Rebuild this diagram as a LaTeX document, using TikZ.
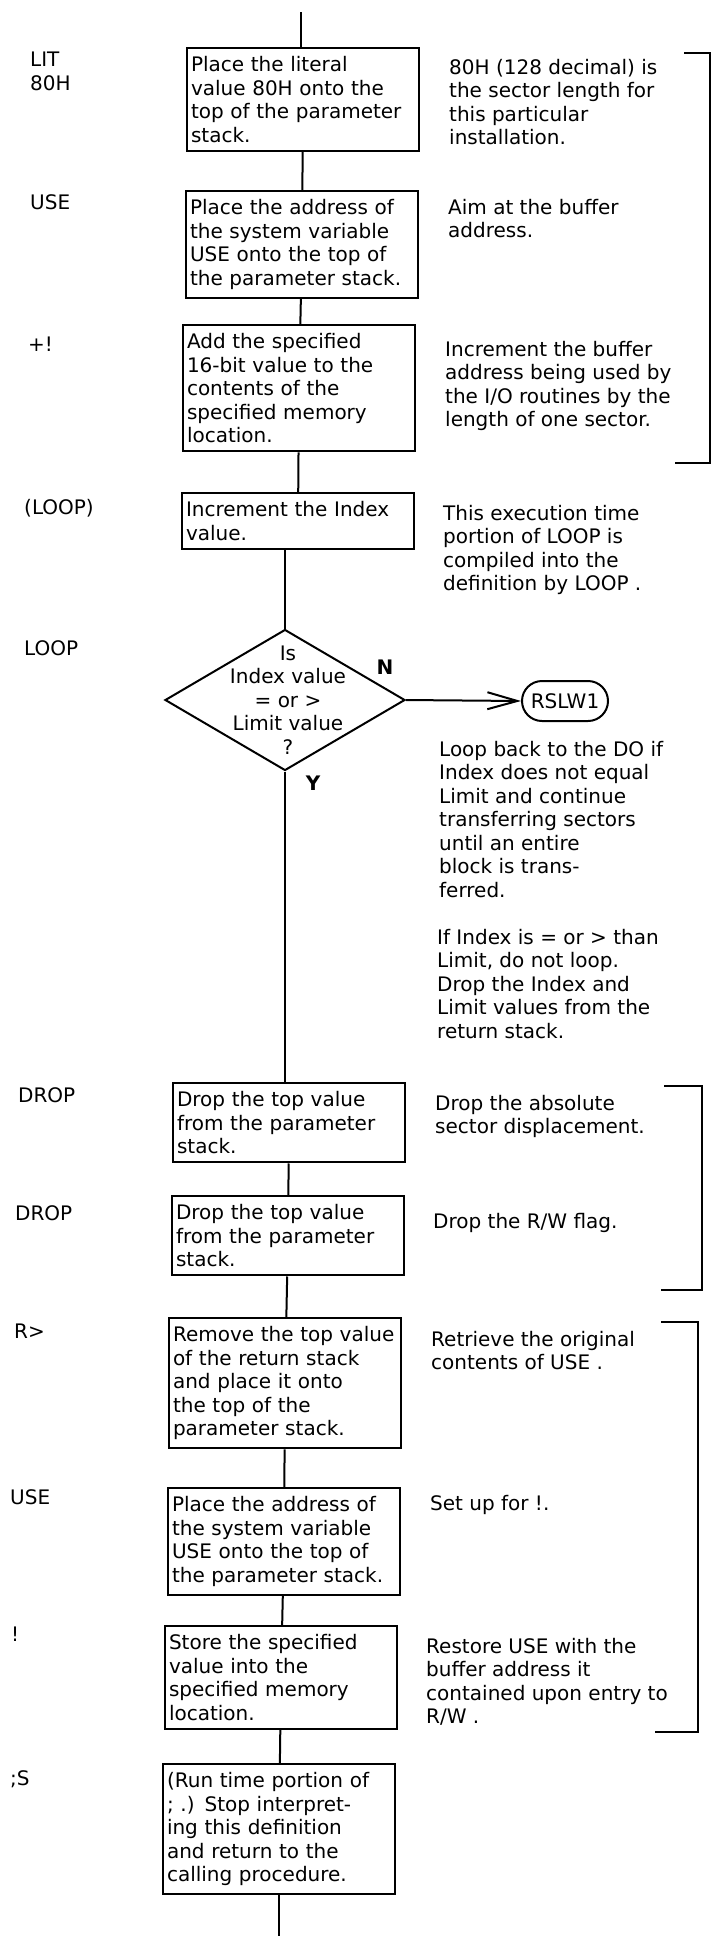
\documentclass[tikz,border=0pt]{standalone}
\usepackage{fontspec}
\setmainfont{DejaVu Sans}
\usepackage{tikz}
\usetikzlibrary{shapes,arrows.meta,positioning,calc}

\begin{document}
\begin{tikzpicture}[
  x=1pt, y=-1pt,
  every node/.style={font=\fontsize{20}{23.5}\selectfont},
  stepbox/.style={draw, line width=2pt, anchor=north west, text width=224pt, align=left, inner xsep=4pt, inner ysep=8.5pt},
  wordlabel/.style={anchor=north west, inner sep=0pt, align=left},
  notetext/.style={anchor=north west, inner sep=0pt, align=left},
  decision/.style={diamond, draw, line width=2pt, minimum width=240pt, minimum height=141pt, inner sep=0pt},
  terminal/.style={draw, line width=2pt, rounded corners=20pt, minimum width=86pt, minimum height=40pt, inner xsep=2pt},
  branch/.style={font=\fontsize{20}{24}\selectfont\bfseries, inner sep=0pt},
  flow/.style={line width=2pt},
  arrow/.style={-{Straight Barb[length=30pt, width=17pt]}, line width=2pt},
  bracket/.style={line width=2pt}
]
\useasboundingbox (0,0) rectangle (712,1936);
\fill[white] (0,0) rectangle (712,1936);

\coordinate (entry) at (301,12);
\coordinate (exit) at (274,1936);

\node[stepbox] (lit) at (186,47) {Place the literal\\value 80H onto the\\top of the parameter\\stack.};
\node[stepbox] (use) at (185,190) {Place the address of\\the system variable\\USE onto the top of\\the parameter stack.};
\node[stepbox] (plusstore) at (182,324) {Add the specified\\16-bit value to the\\contents of the\\specified memory\\location.};
\node[stepbox] (ploop) at (181,492) {Increment the Index\\value.};
\node[decision] (test) at (285,700) {};
\node[align=center, inner sep=0pt] (testtxt) at (288,700) {Is\\Index value\\= or >\\Limit value\\?};
\node[terminal] (rslw) at (565,701) {RSLW1};
\node[branch] (no) at (385,667) {N};
\node[branch] (yes) at (313,783) {Y};
\node[stepbox] (dropa) at (172,1082) {Drop the top value\\from the parameter\\stack.};
\node[stepbox] (dropb) at (171,1195) {Drop the top value\\from the parameter\\stack.};
\node[stepbox] (fromr) at (168,1317) {Remove the top value\\of the return stack\\and place it onto\\the top of the\\parameter stack.};
\node[stepbox] (useb) at (167,1487) {Place the address of\\the system variable\\USE onto the top of\\the parameter stack.};
\node[stepbox] (store) at (164,1625) {Store the specified\\value into the\\specified memory\\location.};
\node[stepbox] (semis) at (162,1763) {(Run time portion of\\; .) Stop interpret-\\ing this definition\\and return to the\\calling procedure.};

\node[wordlabel] (wlit) at (30,52) {LIT\\80H};
\node[wordlabel] (wuse) at (30,194) {USE};
\node[wordlabel] (wplus) at (28,337) {+!};
\node[wordlabel] (wploop) at (24,499) {(LOOP)};
\node[wordlabel] (wloop) at (24,640) {LOOP};
\node[wordlabel] (wdropa) at (18,1087) {DROP};
\node[wordlabel] (wdropb) at (15,1205) {DROP};
\node[wordlabel] (wfromr) at (14,1324) {R>};
\node[wordlabel] (wuseb) at (10,1489) {USE};
\node[wordlabel] (wstore) at (11,1627) {!};
\node[wordlabel] (wsemis) at (10,1770) {;S};

\node[notetext] (nlit) at (449,59) {80H (128 decimal) is\\the sector length for\\this particular\\installation.};
\node[notetext] (nuse) at (448,199) {Aim at the buffer\\address.};
\node[notetext] (nplus) at (445,341) {Increment the buffer\\address being used by\\the I/O routines by the\\length of one sector.};
\node[notetext] (nploop) at (443,505) {This execution time\\portion of LOOP is\\compiled into the\\definition by LOOP .};
\node[notetext] (nback) at (439,741) {Loop back to the DO if\\Index does not equal\\Limit and continue\\transferring sectors\\until an entire\\block is trans-\\ferred.};
\node[notetext] (ndone) at (437,929) {If Index is = or > than\\Limit, do not loop.\\Drop the Index and\\Limit values from the\\return stack.};
\node[notetext] (ndropa) at (435,1095) {Drop the absolute\\sector displacement.};
\node[notetext] (ndropb) at (433,1213) {Drop the R/W flag.};
\node[notetext] (nfromr) at (431,1331) {Retrieve the original\\contents of USE .};
\node[notetext] (nuseb) at (430,1495) {Set up for !.};
\node[notetext] (nstore) at (426,1638) {Restore USE with the\\buffer address it\\contained upon entry to\\R/W .};

\draw[flow] (entry) -- (entry |- lit.north);
\draw[flow] (lit) -- (use);
\draw[flow] (use) -- (plusstore);
\draw[flow] (plusstore) -- (ploop);
\draw[flow] (ploop.south -| test.north) -- (test.north);
\draw[arrow] (test.east) -- (rslw.west);
\draw[flow] (test.south) -- (test.south |- dropa.north);
\draw[flow] (dropa) -- (dropb);
\draw[flow] (dropb) -- (fromr);
\draw[flow] (fromr) -- (useb);
\draw[flow] (useb) -- (store);
\draw[flow] (store) -- (semis);
\draw[flow] (semis.south) -- (semis.south |- exit);

\draw[bracket] (684,53) -- (710,53) -- (710,463) -- (675,463);
\draw[bracket] (664,1086) -- (702,1086) -- (702,1290) -- (661,1290);
\draw[bracket] (661,1322) -- (698,1322) -- (698,1732) -- (655,1732);
\end{tikzpicture}
\end{document}
